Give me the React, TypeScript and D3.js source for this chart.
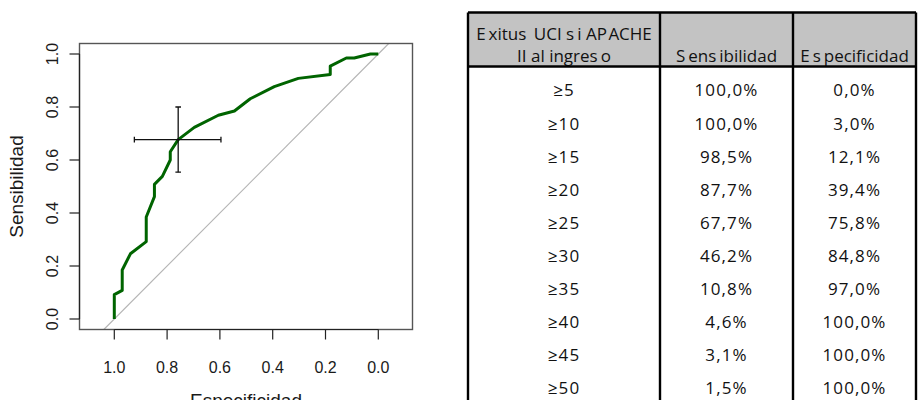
import React from "react";
import * as d3 from "d3";

// ROC curve vertices (specificity, sensitivity)
const rocSpecificity = [1.0, 1.0, 0.97, 0.97, 0.939, 0.879, 0.879, 0.848, 0.848, 0.818, 0.788, 0.788, 0.758, 0.697, 0.606, 0.545, 0.485, 0.394, 0.303, 0.182, 0.182, 0.121, 0.091, 0.03, 0.0];
const rocSensitivity = [0.0, 0.092, 0.108, 0.185, 0.246, 0.292, 0.385, 0.462, 0.508, 0.538, 0.6, 0.631, 0.677, 0.723, 0.769, 0.785, 0.831, 0.877, 0.908, 0.923, 0.954, 0.985, 0.985, 1.0, 1.0];

// Best threshold with its confidence intervals
const bestPoint = { specificity: 0.758, sensitivity: 0.677 };
const specificityCI = [0.596, 0.924];
const sensitivityCI = [0.554, 0.8];

const axisTicks = [0, 0.2, 0.4, 0.6, 0.8, 1.0];

// Table of cut-off points
const tableHeaders = ["Exitus UCI si APACHE", "II al ingreso", "Sensibilidad", "Especificidad"];
const thresholds = [5, 10, 15, 20, 25, 30, 35, 40, 45, 50];
const tableSensitivity = [100.0, 100.0, 98.5, 87.7, 67.7, 46.2, 10.8, 4.6, 3.1, 1.5];
const tableSpecificity = [0.0, 3.0, 12.1, 39.4, 75.8, 84.8, 97.0, 100.0, 100.0, 100.0];

const W = 918;
const H = 400;

const pct = (v: number) => d3.format(".1f")(v).replace(".", ",") + "%";

// Splits a label so that a small gap follows certain glyphs (document-style spacing)
function spaced(label: string) {
  const gapAfter: Record<string, number> = { E: 3, S: 3, s: 3, P: 1.5 };
  const parts: { text: string; dx: number }[] = [];
  let cur = "";
  let pendingDx = 0;
  for (const ch of label) {
    cur += ch;
    if (gapAfter[ch] !== undefined) {
      parts.push({ text: cur, dx: pendingDx });
      cur = "";
      pendingDx = gapAfter[ch];
    }
  }
  if (cur) parts.push({ text: cur, dx: pendingDx });
  return parts.map((p, i) => (
    <tspan key={i} dx={p.dx || undefined}>
      {p.text}
    </tspan>
  ));
}

function RocPlot() {
  const x = d3.scaleLinear().domain([1, 0]).range([114.3, 378.3]);
  const y = d3.scaleLinear().domain([0, 1]).range([319, 54]);
  const box = { left: 79.5, right: 412.5, top: 43.5, bottom: 329.5 };

  const pts = rocSpecificity.map((s, i) => [s, rocSensitivity[i]] as [number, number]);
  const line = d3
    .line<[number, number]>()
    .x((d) => x(d[0]))
    .y((d) => y(d[1]));

  // chance diagonal, sensitivity = 1 - specificity, across the box
  const sLo = y.invert(box.bottom);
  const sHi = y.invert(box.top);
  const diag: [number, number][] = [
    [1 - sLo, sLo],
    [1 - sHi, sHi],
  ];

  const cap = 2.8;
  const cx = x(bestPoint.specificity);
  const cy = y(bestPoint.sensitivity);

  const fontPlot = "'Liberation Sans', Arial, Helvetica, sans-serif";

  return (
    <g>
      <defs>
        <clipPath id="plotClip">
          <rect x={box.left} y={box.top} width={box.right - box.left} height={box.bottom - box.top} />
        </clipPath>
      </defs>
      <g clipPath="url(#plotClip)">
        <path d={line(diag) || ""} stroke="#b4b4b4" strokeWidth={1.1} fill="none" />
        <path d={line(pts) || ""} stroke="#006400" strokeWidth={3} fill="none" strokeLinejoin="round" />
        {/* confidence interval cross */}
        <g stroke="#111" strokeWidth={1.3}>
          <line x1={cx} x2={cx} y1={y(sensitivityCI[0])} y2={y(sensitivityCI[1])} />
          <line x1={cx - cap} x2={cx + cap} y1={y(sensitivityCI[0])} y2={y(sensitivityCI[0])} />
          <line x1={cx - cap} x2={cx + cap} y1={y(sensitivityCI[1])} y2={y(sensitivityCI[1])} />
          <line x1={x(specificityCI[0])} x2={x(specificityCI[1])} y1={cy} y2={cy} />
          <line x1={x(specificityCI[0])} x2={x(specificityCI[0])} y1={cy - cap} y2={cy + cap} />
          <line x1={x(specificityCI[1])} x2={x(specificityCI[1])} y1={cy - cap} y2={cy + cap} />
        </g>
      </g>
      <rect
        x={box.left}
        y={box.top}
        width={box.right - box.left}
        height={box.bottom - box.top}
        fill="none"
        stroke="#555"
        strokeWidth={1.4}
      />
      {/* axes */}
      <g stroke="#222" strokeWidth={1.2}>
        <line x1={x(1)} x2={x(0)} y1={box.bottom} y2={box.bottom} />
        {axisTicks.map((t) => (
          <line key={t} x1={x(t)} x2={x(t)} y1={box.bottom} y2={box.bottom + 10} />
        ))}
        <line x1={box.left} x2={box.left} y1={y(0)} y2={y(1)} />
        {axisTicks.map((t) => (
          <line key={t} x1={box.left - 10} x2={box.left} y1={y(t)} y2={y(t)} />
        ))}
      </g>
      <g fontFamily={fontPlot} fontSize={16} fill="#1a1a1a">
        {axisTicks.map((t) => (
          <text key={t} x={x(t)} y={372.7} textAnchor="middle">
            {d3.format(".1f")(t)}
          </text>
        ))}
        {axisTicks.map((t) => (
          <text key={t} transform={`translate(58.3,${y(t)}) rotate(-90)`} textAnchor="middle">
            {d3.format(".1f")(t)}
          </text>
        ))}
      </g>
      <g fontFamily={fontPlot} fontSize={19} fill="#1a1a1a">
        <text x={(box.left + box.right) / 2} y={406.5} textAnchor="middle">
          Especificidad
        </text>
        <text transform={`translate(23,${(box.top + box.bottom) / 2}) rotate(-90)`} textAnchor="middle">
          Sensibilidad
        </text>
      </g>
    </g>
  );
}

function CutoffTable() {
  const left = 468;
  const right = 916;
  const top = 12.5;
  const headBottom = 66.5;
  const colEdges = [left, 660, 793, right];
  const colCenter = (i: number) => (colEdges[i] + colEdges[i + 1]) / 2;
  const row = d3
    .scaleLinear()
    .domain([0, 1])
    .range([96.4, 96.4 + 33.1]);
  const font = "'Open Sans', 'Noto Sans', sans-serif";

  return (
    <g fontFamily={font} fontSize={17} fill="#111">
      <rect x={left} y={top} width={right - left} height={headBottom - top} fill="#c3c3c3" />
      <g fill="#111">
        <text x={colCenter(0)} y={40} textAnchor="middle">
          {spaced(tableHeaders[0])}
        </text>
        <text x={colCenter(0)} y={61.7} textAnchor="middle">
          {spaced(tableHeaders[1])}
        </text>
        <text x={colCenter(1)} y={61.7} textAnchor="middle">
          {spaced(tableHeaders[2])}
        </text>
        <text x={colCenter(2)} y={61.7} textAnchor="middle">
          {spaced(tableHeaders[3])}
        </text>
      </g>
      <g letterSpacing={1.1}>
        {thresholds.map((t, i) => (
          <g key={t}>
            <text x={colCenter(0)} y={row(i)} textAnchor="middle">
              {"≥" + t}
            </text>
            <text x={colCenter(1)} y={row(i)} textAnchor="middle">
              {pct(tableSensitivity[i])}
            </text>
            <text x={colCenter(2)} y={row(i)} textAnchor="middle">
              {pct(tableSpecificity[i])}
            </text>
          </g>
        ))}
      </g>
      <g stroke="#000" strokeWidth={2.4} fill="none">
        <line x1={left} x2={right} y1={top} y2={top} />
        <line x1={left} x2={right} y1={headBottom} y2={headBottom} />
        {colEdges.map((e) => (
          <line key={e} x1={e} x2={e} y1={top} y2={H + 2} />
        ))}
      </g>
    </g>
  );
}

export default function App() {
  return (
    <div style={{ position: "fixed", left: 0, top: 0, width: W, height: H, background: "#fff" }}>
      <svg width={W} height={H} viewBox={`0 0 ${W} ${H}`} style={{ display: "block" }}>
        <rect width={W} height={H} fill="#fff" />
        <RocPlot />
        <CutoffTable />
      </svg>
    </div>
  );
}
